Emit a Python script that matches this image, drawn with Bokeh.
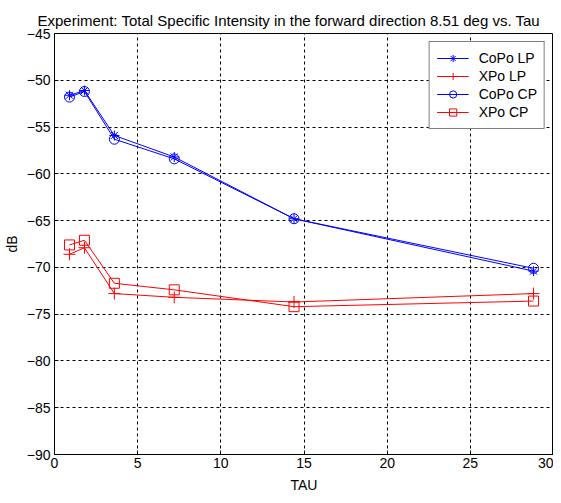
from bokeh.plotting import figure
from bokeh.models import Range1d, FixedTicker, Legend, LegendItem
from bokeh.embed import file_html
from bokeh.resources import INLINE

tau = [0.9, 1.8, 3.6, 7.2, 14.4, 28.8]
copo_lp = [-51.6, -51.1, -55.9, -58.2, -64.8, -70.4]
xpo_lp = [-68.6, -67.9, -72.8, -73.2, -73.7, -72.8]
copo_cp = [-51.8, -51.2, -56.3, -58.4, -64.8, -70.1]
xpo_cp = [-67.6, -67.1, -71.7, -72.4, -74.2, -73.6]

x_ticks = [0, 5, 10, 15, 20, 25, 30]
y_ticks = [-90, -85, -80, -75, -70, -65, -60, -55, -50, -45]

FONT = "Liberation Sans"
BLUE = "#0000ff"
RED = "#ff0000"

p = figure(width=553, height=495, output_backend="svg", toolbar_location=None,
           x_range=Range1d(0, 30), y_range=Range1d(-90, -45),
           title="Experiment: Total Specific Intensity in the forward direction 8.51 deg vs. Tau",
           min_border_left=50, min_border_right=0, min_border_top=33, min_border_bottom=38)

p.title.text_font = FONT
p.title.text_font_size = "15px"
p.title.text_font_style = "normal"
p.title.align = "left"
p.title.offset = -17
p.title.text_color = "black"
p.title.standoff = 10

p.outline_line_color = "black"
p.outline_line_width = 1
p.background_fill_color = "white"
p.border_fill_color = "white"

for ax in (p.xaxis[0], p.yaxis[0]):
    ax.major_label_text_font = FONT
    ax.major_label_text_font_size = "14px"
    ax.major_label_text_color = "black"
    ax.axis_label_text_font = FONT
    ax.axis_label_text_font_size = "14px"
    ax.axis_label_text_font_style = "normal"
    ax.axis_label_text_color = "black"
    ax.axis_line_color = "black"
    ax.major_tick_line_color = "black"
    ax.major_tick_in = 4
    ax.major_tick_out = 0
    ax.minor_tick_line_color = None

p.xaxis.ticker = FixedTicker(ticks=x_ticks)
p.yaxis.ticker = FixedTicker(ticks=y_ticks)
p.xaxis.axis_label = "TAU"
p.yaxis.axis_label = "dB"
p.xaxis.axis_label_standoff = 6
p.yaxis.axis_label_standoff = 4
p.xaxis.major_label_standoff = 3
p.yaxis.major_label_standoff = 4

p.xgrid.ticker = FixedTicker(ticks=x_ticks[1:-1])
p.ygrid.ticker = FixedTicker(ticks=y_ticks[1:-1])
for g in (p.xgrid[0], p.ygrid[0]):
    g.grid_line_color = "black"
    g.grid_line_dash = "3 3"
    g.grid_line_width = 1
    g.grid_line_alpha = 1.0

l1 = p.line(tau, copo_lp, line_color=BLUE, line_width=1)
m1 = p.scatter(tau, copo_lp, marker="asterisk", size=10, line_color=BLUE, line_width=1)
l2 = p.line(tau, xpo_lp, line_color=RED, line_width=1)
m2 = p.scatter(tau, xpo_lp, marker="cross", size=12, line_color=RED, line_width=1)
l3 = p.line(tau, copo_cp, line_color=BLUE, line_width=1)
m3 = p.scatter(tau, copo_cp, marker="circle", size=10, line_color=BLUE, fill_color=None, line_width=1)
l4 = p.line(tau, xpo_cp, line_color=RED, line_width=1)
m4 = p.scatter(tau, xpo_cp, marker="square", size=10, line_color=RED, fill_color=None, line_width=1)

legend = Legend(items=[
    LegendItem(label="CoPo LP", renderers=[l1, m1]),
    LegendItem(label="XPo LP", renderers=[l2, m2]),
    LegendItem(label="CoPo CP", renderers=[l3, m3]),
    LegendItem(label="XPo CP", renderers=[l4, m4]),
], location="top_right")
legend.label_text_font = FONT
legend.label_text_font_size = "14px"
legend.label_text_color = "black"
legend.border_line_color = "black"
legend.border_line_width = 1
legend.background_fill_color = "white"
legend.background_fill_alpha = 1.0
legend.margin = 8
legend.padding = 7
legend.spacing = 0
legend.glyph_width = 32
legend.glyph_height = 18
legend.label_height = 18
legend.label_standoff = 10
p.add_layout(legend)

open("out.html", "w").write(file_html(p, INLINE))
